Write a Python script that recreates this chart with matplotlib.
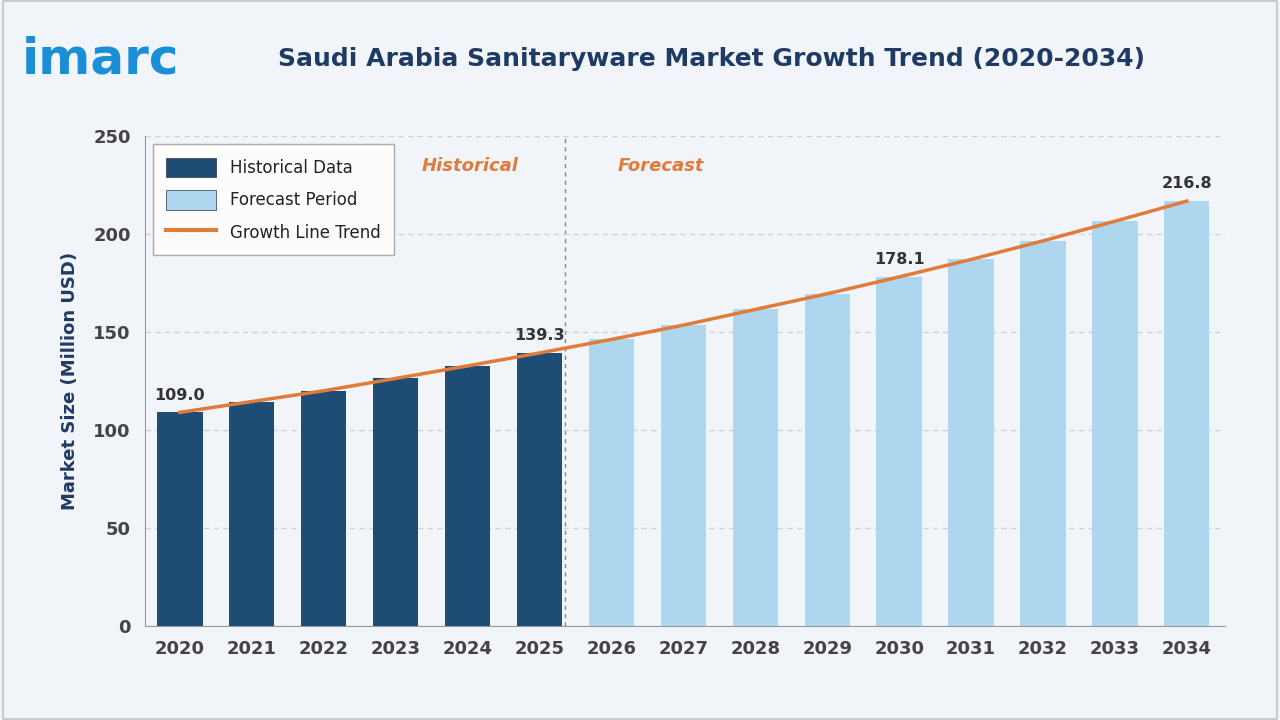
import matplotlib
matplotlib.use("Agg")
import matplotlib.pyplot as plt
from matplotlib.patches import Patch, Rectangle
from matplotlib.lines import Line2D

years = [str(y) for y in range(2020, 2035)]
values = [109.0, 114.5, 120.0, 126.3, 132.7, 139.3, 146.2, 153.5, 161.5, 169.5, 178.1, 187.0, 196.5, 206.5, 216.8]
n_hist = 6
labels_shown = {0: "109.0", 5: "139.3", 10: "178.1", 14: "216.8"}

dark = "#1d4d74"
light = "#afd6ef"
orange = "#e07b39"
navy = "#1f3b63"
bg = "#f1f4f8"

fig = plt.figure(figsize=(12.8, 7.2), dpi=100, facecolor=bg)
fig.patches.append(Rectangle((0.002, 0.002), 0.996, 0.996, transform=fig.transFigure,
                             fill=False, edgecolor="#c8ccd2", lw=1.5))
ax = fig.add_axes([0.113, 0.1306, 0.844, 0.6805])
ax.set_facecolor(bg)
x = list(range(len(years)))
colors = [dark if i < n_hist else light for i in x]
ax.bar(x, values, width=0.63, color=colors, zorder=2)
ax.plot(x, values, color=orange, lw=2.5, zorder=3)
for i, t in labels_shown.items():
    ax.text(i, values[i] + 5, t, ha="center", va="bottom", fontsize=11.5, fontweight="bold", color="#333333")
ax.axvline(5.36, color="#888888", ls=(0, (3, 3)), lw=1, zorder=1)
ax.text(4.03, 232, "Historical", color=orange, fontsize=13, fontweight="bold", style="italic", ha="center")
ax.text(6.69, 232, "Forecast", color=orange, fontsize=13, fontweight="bold", style="italic", ha="center")
ax.set_ylim(0, 250)
ax.set_xlim(-0.49, 14.53)
ax.set_yticks(range(0, 251, 50))
ax.set_xticks(x)
ax.set_xticklabels(years)
ax.tick_params(axis="both", length=0, labelsize=13, labelcolor="#444444", pad=10)
for l in ax.get_xticklabels() + ax.get_yticklabels():
    l.set_fontweight("bold")
ax.yaxis.grid(True, ls=(0, (4, 3)), color="#cfd3d8", lw=1, zorder=0)
for s in ["top", "right"]:
    ax.spines[s].set_visible(False)
ax.spines["left"].set_color("#999999")
ax.spines["bottom"].set_color("#999999")
ax.set_ylabel("Market Size (Million USD)", fontsize=13, fontweight="bold", color=navy, labelpad=10)

handles = [Patch(facecolor=dark, edgecolor="#333333", lw=0.5), Patch(facecolor=light, edgecolor="#333333", lw=0.5),
           Line2D([0], [0], color=orange, lw=3)]
leg = ax.legend(handles, ["Historical Data", "Forecast Period", "Growth Line Trend"], loc="upper left",
                bbox_to_anchor=(0.0, 1.0), fontsize=12, frameon=True, fancybox=False, edgecolor="#999999",
                handlelength=3.0, handleheight=1.4, labelspacing=0.8, borderpad=0.8)
leg.get_frame().set_facecolor("white")
for t in leg.get_texts():
    t.set_color("#222222")

fig.text(0.556, 0.918, "Saudi Arabia Sanitaryware Market Growth Trend (2020-2034)", ha="center", va="center",
         fontsize=18, fontweight="bold", color=navy)
fig.text(0.017, 0.918, "imarc", ha="left", va="center", fontsize=36, fontweight="bold", color="#1a8fd8")
fig.savefig("out.png", dpi=100, facecolor=bg)
